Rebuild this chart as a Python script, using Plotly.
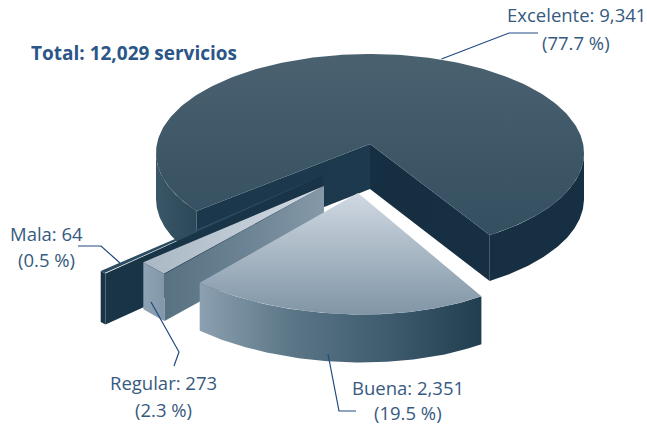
import numpy as np
import plotly.graph_objects as go

# data
categories = ["Excelente", "Buena", "Regular", "Mala"]
values = [9341, 2351, 273, 64]
percents = ["77.7", "19.5", "2.3", "0.5"]
title_text = "Total: 12,029 servicios"
total = sum(values)

FONT = "Open Sans"
TXT = "#365a80"
LEAD = "#1f4a80"
RX, RY = 214, 99

# drawing style per slice: apex, ellipse centre, shear, mid/start angle, stretch of sweep, depth
geom = {
    "Excelente": dict(apex=(370, 144), c=(370, 153), shear=0.0, start=146, dir=-1, stretch=0.9725, d=46),
    "Buena": dict(apex=(358, 193), c=(341, 215), shear=0.046, start=139, dir=1, stretch=1.17, d=48),
    "Regular": dict(apex=(324, 186), c=(318, 205), shear=0.0, start=225.8, dir=1, stretch=1.09, d=47),
    "Mala": dict(apex=(323, 175), c=(262, 206), shear=0.0, start=227, dir=1, stretch=1.0, d=51),
}

fig = go.Figure()


def sweep(name):
    g = geom[name]
    return values[categories.index(name)] / total * 360 * g["stretch"] * g["dir"]


def arc(name, a, b, n=90):
    g = geom[name]
    t = np.radians(np.linspace(a, b, n))
    x = g["c"][0] + RX * np.sin(t)
    y = g["c"][1] - RY * np.cos(t) + g["shear"] * RX * np.sin(t)
    return x, y


def poly(x, y, stops, kind):
    fig.add_trace(go.Scatter(
        x=list(x) + [x[0]], y=list(y) + [y[0]], mode="lines", fill="toself",
        line=dict(width=0), hoverinfo="skip", showlegend=False,
        fillgradient=dict(type=kind, colorscale=[[i / (len(stops) - 1), c] for i, c in enumerate(stops)]),
    ))


def wall(name, a, b, stops, kind="horizontal"):
    d = geom[name]["d"]
    x, y = arc(name, a, b)
    poly(np.r_[x, x[::-1]], np.r_[y, y[::-1] + d], stops, kind)


def side(name, ang, stops, kind="horizontal", apex_d=None):
    g = geom[name]
    d = g["d"]
    ad = d if apex_d is None else apex_d
    x, y = arc(name, ang, ang, 1)
    ax, ay = g["apex"]
    poly([x[0], ax, ax, x[0]], [y[0], ay, ay + ad, y[0] + d], stops, kind)


def top(name, stops, kind="vertical"):
    g = geom[name]
    x, y = arc(name, g["start"], g["start"] + sweep(name), 240)
    poly(np.r_[g["apex"][0], x], np.r_[g["apex"][1], y], stops, kind)


# Excelente
s = geom["Excelente"]["start"]
e = s + sweep("Excelente")
wall("Excelente", e, -90, ["#3a5768", "#2b4859"])
wall("Excelente", 90, s, ["#172f42", "#172f42"])
side("Excelente", e, ["#1a374b", "#1c394d"], apex_d=45)
side("Excelente", s, ["#152e41", "#172f42"], apex_d=45)
top("Excelente", ["#344f60", "#4a6170"])

# Mala
s = geom["Mala"]["start"]
e = s + sweep("Mala")
wall("Mala", s, e, ["#1a3447", "#1a3447"])
side("Mala", s, ["#1a3447", "#1a3447"])
top("Mala", ["#2c4c60", "#2c4c60"])

# Regular
s = geom["Regular"]["start"]
e = s + sweep("Regular")
wall("Regular", s, e, ["#8ea3b3", "#8297a8"])
side("Regular", s, ["#587282", "#6b8394", "#8599a8"])
top("Regular", ["#a9b8c5", "#d2dae2"], "horizontal")

# Buena
s = geom["Buena"]["start"]
e = s + sweep("Buena")
wall("Buena", s, e, ["#8ba0b0", "#5a7586", "#3e5c6e", "#213d50"])
top("Buena", ["#8095a6", "#d0d9e2"])

# leader lines
leaders = {
    "Excelente": ([441.5, 509, 538], [59, 33, 33]),
    "Mala": ([78, 101, 120], [246, 246, 263]),
    "Regular": ([151, 179, 174], [302, 352, 366]),
    "Buena": ([328, 339, 356], [354, 411, 411]),
}
for name in categories:
    fig.add_trace(go.Scatter(x=leaders[name][0], y=leaders[name][1], mode="lines",
                             line=dict(color=LEAD, width=1.2), hoverinfo="skip", showlegend=False))

# labels
label_pos = {
    "Excelente": (576, 14, 42),
    "Buena": (408, 387, 412.5),
    "Regular": (163, 382, 409),
    "Mala": (46, 233, 259),
}
for i, name in enumerate(categories):
    cx, y1, y2 = label_pos[name]
    fig.add_annotation(x=cx, y=y1, text=f"{name}: {values[i]:,}", showarrow=False,
                       font=dict(family=FONT, size=18.5, color=TXT))
    fig.add_annotation(x=cx, y=y2, text=f"({percents[i]} %)", showarrow=False,
                       font=dict(family=FONT, size=18.5, color=TXT))
fig.add_annotation(x=134, y=53, text=f"<b>{title_text}</b>", showarrow=False,
                   font=dict(family=FONT, size=19, color="#2b5688"))

fig.update_layout(
    width=647, height=425, margin=dict(l=0, r=0, t=0, b=0),
    paper_bgcolor="white", plot_bgcolor="white", showlegend=False,
    xaxis=dict(range=[0, 647], visible=False, fixedrange=True),
    yaxis=dict(range=[425, 0], visible=False, fixedrange=True),
)
fig.write_html("out.html", config=dict(displayModeBar=False),
               post_script="document.body.style.margin='0';document.documentElement.style.overflow='hidden';")
